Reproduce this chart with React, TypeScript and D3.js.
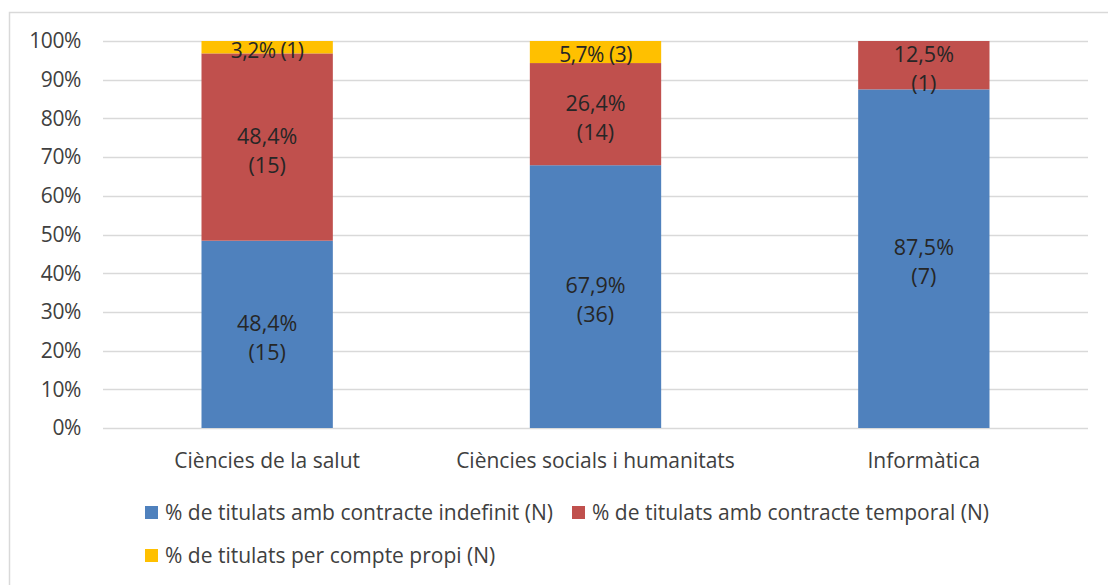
import React from "react";
import * as d3 from "d3";

const categories = ["Ciències de la salut", "Ciències socials i humanitats", "Informàtica"];
const seriesNames = [
  "% de titulats amb contracte indefinit (N)",
  "% de titulats amb contracte temporal (N)",
  "% de titulats per compte propi (N)",
];
const indefinitPct = [48.4, 67.9, 87.5];
const indefinitN = [15, 36, 7];
const temporalPct = [48.4, 26.4, 12.5];
const temporalN = [15, 14, 1];
const propiPct = [3.2, 5.7, 0];
const propiN = [1, 3, 0];
const yTicks = [0, 10, 20, 30, 40, 50, 60, 70, 80, 90, 100];

const colors = ["#4F81BD", "#C0504D", "#FFC000"];
const FONT = "'Open Sans', sans-serif";
const FS = 21;

export default function App() {
  const W = 1108, H = 585;
  const left = 103, right = 1088, top = 41, bottom = 428;
  const x = d3.scaleBand<string>().domain(categories).range([left, right]).paddingInner(0.6).paddingOuter(0.3);
  const y = d3.scaleLinear().domain([0, 100]).range([bottom, top]);

  const rows = categories.map((c, i) => ({
    cat: c,
    s0: indefinitPct[i],
    s1: temporalPct[i],
    s2: propiPct[i],
  }));
  const stack = d3.stack<any>().keys(["s0", "s1", "s2"]);
  const stacked = stack(rows);
  const pcts = [indefinitPct, temporalPct, propiPct];
  const ns = [indefinitN, temporalN, propiN];
  const fmt = (v: number) => v.toFixed(1).replace(".", ",") + "%";

  return (
    <svg width={W} height={H} style={{ position: "absolute", left: 0, top: 0 }} fontFamily={FONT}>
      <rect x={0} y={0} width={W} height={H} fill="#fff" />
      <rect x={9.5} y={12.5} width={W + 10} height={H} fill="none" stroke="#d9d9d9" strokeWidth={1.5} />
      {yTicks.map((t) => (
        <g key={t}>
          <line x1={left} x2={right} y1={Math.round(y(t)) + 0.5} y2={Math.round(y(t)) + 0.5} stroke="#d9d9d9" strokeWidth={1.5} />
          <text x={81} y={y(t)} dy="0.35em" textAnchor="end" fontSize={FS} fill="#404040" letterSpacing={-0.4}>{t}%</text>
        </g>
      ))}
      {stacked.map((layer, si) =>
        layer.map((d, ci) => {
          const v = pcts[si][ci];
          if (!v) return null;
          const bx = x(categories[ci])!;
          const bw = x.bandwidth();
          const y0 = y(d[0]), y1 = y(d[1]);
          const cx = bx + bw / 2;
          const cy = (y0 + y1) / 2;
          const single = si === 2;
          return (
            <g key={si + "-" + ci}>
              <rect x={bx} y={y1} width={bw} height={y0 - y1} fill={colors[si]} />
              {single ? (
                <text x={cx} y={cy + 3} dy="0.35em" textAnchor="middle" fontSize={FS} fill="#262626" letterSpacing={-0.5}>
                  {fmt(v)} ({ns[si][ci]})
                </text>
              ) : (
                <text x={cx} textAnchor="middle" fontSize={FS + 0.5} fill="#262626">
                  <tspan x={cx} y={cy - 11} dy="0.35em">{fmt(v)}</tspan>
                  <tspan x={cx} y={cy + 18} dy="0.35em">({ns[si][ci]})</tspan>
                </text>
              )}
            </g>
          );
        })
      )}
      {categories.map((c) => (
        <text key={c} x={x(c)! + x.bandwidth() / 2} y={461} dy="0.35em" textAnchor="middle" fontSize={FS} fill="#404040">{c}</text>
      ))}
      {[
        { i: 0, sx: 145, ty: 513 },
        { i: 1, sx: 572, ty: 513 },
        { i: 2, sx: 145, ty: 556 },
      ].map(({ i, sx, ty }) => (
        <g key={i}>
          <rect x={sx} y={ty - 7} width={13} height={13} fill={colors[i]} />
          <text x={sx + 20} y={ty} dy="0.35em" fontSize={FS} fill="#404040">{seriesNames[i]}</text>
        </g>
      ))}
    </svg>
  );
}
